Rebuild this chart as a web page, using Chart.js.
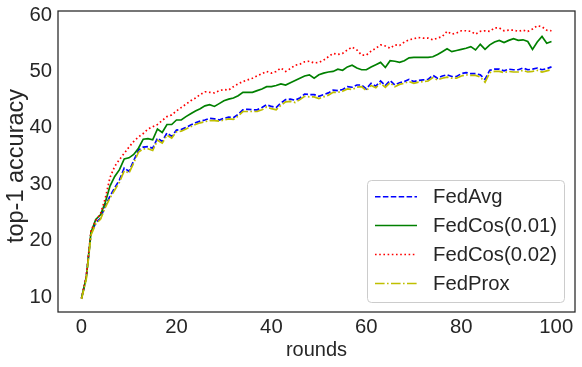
<!DOCTYPE html>
<html><head><meta charset="utf-8">
<script src="https://cdn.jsdelivr.net/npm/chart.js@4.4.0/dist/chart.umd.min.js"></script>
<style>html,body{margin:0;padding:0;background:#fff}canvas{display:block}</style>
</head><body>
<canvas id="c" width="582" height="367"></canvas>
<script>
const rounds=[0,1,2,3,4,5,6,7,8,9,10,11,12,13,14,15,16,17,18,19,20,21,22,23,24,25,26,27,28,29,30,31,32,33,34,35,36,37,38,39,40,41,42,43,44,45,46,47,48,49,50,51,52,53,54,55,56,57,58,59,60,61,62,63,64,65,66,67,68,69,70,71,72,73,74,75,76,77,78,79,80,81,82,83,84,85,86,87,88,89,90,91,92,93,94,95,96,97,98,99];
const fedAvg=[9.8,13.5,21.3,23.2,24.0,26.2,27.9,29.4,30.8,32.9,32.3,34.2,36.1,36.6,36.7,36.4,38.2,37.6,39.1,38.5,39.6,39.7,40.1,40.5,40.9,41.2,41.4,41.7,41.6,41.4,41.7,41.9,41.8,42.4,43.2,43.3,43.2,43.2,43.6,44.1,43.8,43.6,44.4,45.0,45.1,44.9,45.3,46.0,45.9,45.9,45.6,45.9,46.2,46.7,46.6,46.8,47.3,47.2,47.6,47.6,46.9,47.9,47.4,48.3,47.5,48.4,47.6,48.0,48.2,48.6,48.2,48.4,48.5,48.6,49.3,48.8,49.2,49.4,49.1,49.1,49.6,49.8,49.6,49.6,49.4,48.6,50.2,50.4,50.4,50.1,50.4,50.3,50.3,50.6,50.3,50.4,50.6,50.3,50.5,50.8];
const fedCos001=[9.8,13.5,21.5,23.8,24.6,26.8,29.7,31.4,32.6,34.5,34.7,35.3,36.4,38.0,38.1,37.9,39.8,39.2,40.6,40.6,41.4,41.4,42.0,42.5,43.0,43.4,43.9,44.1,43.8,44.3,44.8,45.1,45.3,45.7,46.3,46.3,46.3,46.6,46.9,47.3,47.3,47.5,47.8,47.6,48.0,48.4,48.8,49.2,49.4,48.8,49.4,49.7,49.9,50.0,50.4,50.2,50.8,51.1,50.6,50.3,50.3,50.8,51.2,51.6,50.7,51.9,51.8,51.6,51.9,52.4,52.5,52.5,52.5,52.5,52.6,53.0,53.5,54.0,53.5,53.7,53.9,54.1,54.4,53.8,54.8,53.9,54.7,55.2,55.5,55.1,55.5,55.8,55.5,55.6,55.3,53.9,55.2,56.2,55.0,55.3];
const fedCos002=[9.8,13.8,21.8,23.6,24.8,27.5,31.2,33.2,34.4,35.5,36.6,37.6,38.4,39.0,39.8,40.2,40.6,41.3,42.0,42.3,43.0,43.6,44.2,44.8,45.3,45.9,46.4,46.3,46.2,46.6,46.8,46.7,47.3,47.8,48.2,48.5,48.8,49.2,49.6,50.0,49.7,50.0,50.6,50.0,50.5,51.1,51.3,51.7,51.8,51.5,51.6,52.0,52.6,53.2,53.0,53.2,53.8,54.3,53.8,52.9,52.9,53.6,54.1,54.7,54.5,54.1,54.7,54.6,55.2,55.6,55.8,56.0,55.9,55.9,55.6,55.9,56.2,57.1,56.6,56.8,57.2,57.2,57.1,56.6,57.1,57.2,57.1,57.7,57.7,57.2,57.3,57.3,57.1,57.3,57.1,57.5,58.1,57.9,57.3,57.2];
const fedProx=[9.7,13.2,21.0,23.0,23.8,25.9,27.6,29.0,30.4,32.4,32.0,33.8,35.7,36.3,36.3,36.0,37.8,37.3,38.7,38.2,39.3,39.4,39.8,40.2,40.6,40.9,41.1,41.3,41.3,41.2,41.4,41.6,41.5,42.1,42.9,42.9,42.9,42.9,43.2,43.7,43.4,43.2,44.0,44.6,44.7,44.5,45.0,45.6,45.5,45.5,45.2,45.5,45.8,46.3,46.3,46.5,46.9,46.8,47.2,47.3,46.6,47.5,47.1,47.9,47.2,48.0,47.3,47.7,47.9,48.2,47.9,48.1,48.2,48.3,48.9,48.5,48.8,49.0,48.8,48.8,49.2,49.4,49.3,49.3,49.0,48.1,49.8,50.0,50.0,49.8,50.0,49.9,49.9,50.2,49.9,50.0,50.2,49.9,50.1,50.3];
const seriesNames=['FedAvg','FedCos(0.01)','FedCos(0.02)','FedProx'];
const xTicks=[0,20,40,60,80,100];
const yTicks=[10,20,30,40,50,60];
const xTitle='rounds';
const yTitle='top-1 accuracy';

const FONT='"Liberation Sans", Arial, sans-serif';
const FS=20.3;
const TXT='#262626';
const styles=[
  {color:'#0000ff',dash:[5.5,2.4]},
  {color:'#008000',dash:[]},
  {color:'#ff0000',dash:[1.6,2.6]},
  {color:'#bfbf00',dash:[9.6,2.4,1.6,2.4]}
];
const allSeries=[fedAvg,fedCos001,fedCos002,fedProx];
const datasets=allSeries.map((vals,k)=>({
  label:seriesNames[k],
  data:vals.map((v,i)=>({x:rounds[i],y:v})),
  borderColor:styles[k].color,
  borderDash:styles[k].dash,
  borderWidth:1.7,
  pointRadius:0,
  fill:false,
  tension:0,
  order:4-k
}));

const framePlugin={
  id:'frame',
  afterDatasetsDraw(chart){
    const {ctx,chartArea:a}=chart;
    ctx.save();
    ctx.strokeStyle=TXT;
    ctx.lineWidth=1.25;
    ctx.strokeRect(a.left,a.top,a.right-a.left,a.bottom-a.top);
    ctx.restore();
  }
};
const yTitlePlugin={
  id:'yTitle',
  afterDraw(chart){
    const ctx=chart.ctx;
    ctx.save();
    ctx.translate(16.5,166);
    ctx.rotate(-Math.PI/2);
    ctx.font='23.5px '+FONT;
    ctx.fillStyle=TXT;
    ctx.textAlign='center';
    ctx.textBaseline='middle';
    ctx.fillText(yTitle,0,0);
    ctx.restore();
  }
};
const legendPlugin={
  id:'boxLegend',
  afterDraw(chart){
    const ctx=chart.ctx;
    const bx=367.5,by=180.5,bw=197,bh=122,r=4;
    ctx.save();
    ctx.beginPath();
    ctx.roundRect(bx,by,bw,bh,r);
    ctx.fillStyle='rgba(255,255,255,0.8)';
    ctx.fill();
    ctx.strokeStyle='#cccccc';
    ctx.lineWidth=1;
    ctx.stroke();
    ctx.font=FS+'px '+FONT;
    ctx.textBaseline='middle';
    ctx.textAlign='left';
    const rowY=[196.7,225.6,254.5,283.4];
    seriesNames.forEach((n,k)=>{
      const y=rowY[k];
      ctx.beginPath();
      ctx.setLineDash(styles[k].dash);
      ctx.strokeStyle=styles[k].color;
      ctx.lineWidth=1.5;
      ctx.moveTo(375,y);ctx.lineTo(417,y);
      ctx.stroke();
      ctx.setLineDash([]);
      ctx.fillStyle=TXT;
      ctx.fillText(n,433,y+1);
    });
    ctx.restore();
  }
};

new Chart(document.getElementById('c'),{
  type:'line',
  data:{datasets},
  plugins:[framePlugin,yTitlePlugin,legendPlugin],
  options:{
    responsive:false,
    devicePixelRatio:1,
    animation:false,
    layout:{padding:{left:0,top:11,right:7,bottom:0}},
    plugins:{legend:{display:false},tooltip:{enabled:false}},
    scales:{
      x:{
        type:'linear',min:-4.95,max:103.95,
        grid:{display:false,drawTicks:false},
        border:{display:false},
        afterBuildTicks(s){s.ticks=xTicks.map(v=>({value:v}));},
        afterFit(s){s.height=55;s.paddingLeft=0;s.paddingRight=0;},
        ticks:{color:TXT,font:{family:FONT,size:FS},padding:3,maxRotation:0,autoSkip:false},
        title:{display:true,text:xTitle,color:TXT,font:{family:FONT,size:20},padding:{top:0,bottom:5}}
      },
      y:{
        type:'linear',min:7.4,max:60.7,
        grid:{display:false,drawTicks:false},
        border:{display:false},
        afterBuildTicks(s){s.ticks=yTicks.map(v=>({value:v}));},
        afterFit(s){s.width=58;s.paddingTop=0;s.paddingBottom=0;},
        ticks:{color:TXT,font:{family:FONT,size:FS},padding:6,autoSkip:false},
        title:{display:false}
      }
    }
  }
});
</script>
</body></html>
